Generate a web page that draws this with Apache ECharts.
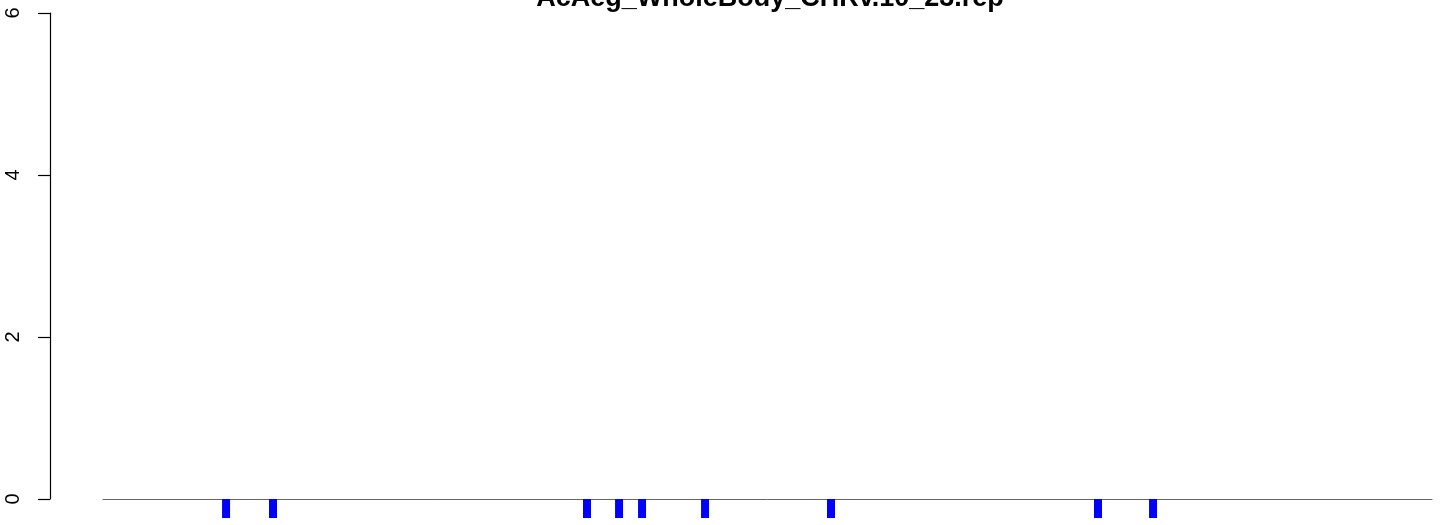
<!DOCTYPE html>
<html>
<head>
<meta charset="utf-8">
<script src="https://cdn.jsdelivr.net/npm/echarts@6/dist/echarts.min.js"></script>
<style>
  html, body { margin: 0; padding: 0; background: #fff; }
  #chart { width: 1444px; height: 525px; }
</style>
</head>
<body>
<div id="chart"></div>
<script>
// positions along the track (0..1000) and the bar values below the baseline
let positions = [92.6, 127.9, 364.2, 388.3, 405.6, 453.0, 547.8, 748.7, 790.1];
let values = [-0.235, -0.235, -0.235, -0.235, -0.235, -0.235, -0.235, -0.235, -0.235];
let yTicks = [0, 2, 4, 6];
let titleText = 'AcAeg_WholeBody_CHRv.10_23.rep';

let chart = echarts.init(document.getElementById('chart'), null, { renderer: 'canvas' });

let option = {
    animation: false,
    backgroundColor: '#ffffff',
    title: {
        text: titleText,
        left: 765,
        textAlign: 'center',
        top: -20,
        textStyle: {
            fontFamily: 'Liberation Sans',
            fontWeight: 'bold',
            fontSize: 27,
            color: '#000'
        }
    },
    grid: {
        left: 103,
        right: 12,
        top: 13,
        bottom: 26
    },
    xAxis: {
        type: 'value',
        min: 0,
        max: 1000,
        axisLine: { show: true, onZero: true, lineStyle: { color: '#666', width: 1 } },
        axisTick: { show: false },
        axisLabel: { show: false },
        splitLine: { show: false }
    },
    yAxis: {
        type: 'value',
        min: yTicks[0],
        max: yTicks[yTicks.length - 1],
        interval: 2,
        offset: 53,
        axisLine: { show: true, onZero: false, lineStyle: { color: '#000', width: 1.2 } },
        axisTick: { show: true, length: 12, lineStyle: { color: '#000', width: 1.2 } },
        axisLabel: {
            rotate: 90,
            margin: 27,
            fontFamily: 'Liberation Sans',
            fontSize: 20,
            color: '#000'
        },
        splitLine: { show: false }
    },
    series: [{
        type: 'bar',
        clip: false,
        barWidth: 8,
        itemStyle: { color: '#0000ff' },
        data: positions.map((p, i) => [p, values[i]])
    }]
};

chart.setOption(option);
</script>
</body>
</html>
